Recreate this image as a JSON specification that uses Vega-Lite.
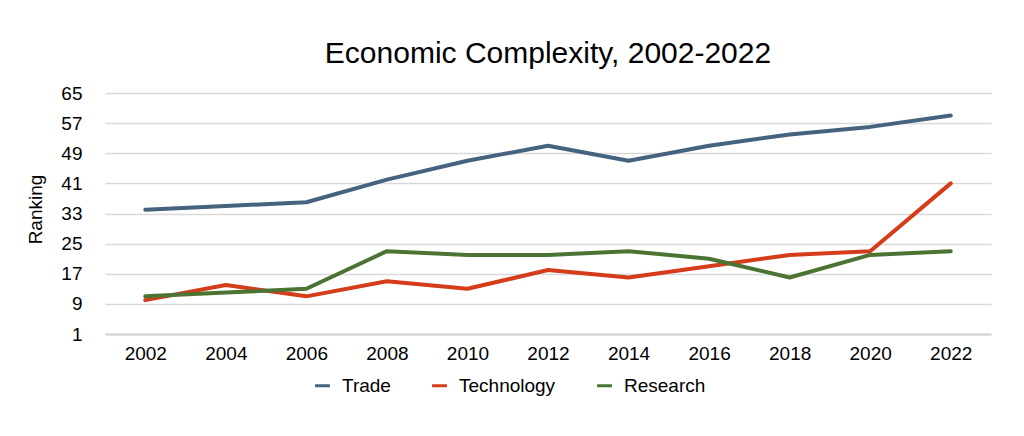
{
  "$schema": "https://vega.github.io/schema/vega-lite/v6.json",
  "width": 886,
  "height": 241,
  "autosize": {"type": "none"},
  "padding": {"left": 105, "top": 93, "right": 33, "bottom": 102},
  "background": "white",
  "config": {
    "font": "Liberation Sans",
    "view": {"stroke": null}
  },
  "title": {
    "text": "Economic Complexity, 2002-2022",
    "fontSize": 30,
    "fontWeight": "normal",
    "color": "#000000",
    "anchor": "middle",
    "frame": "group",
    "baseline": "alphabetic",
    "offset": -9
  },
  "data": {
    "values": [
      {"year": "2002", "series": "Trade", "rank": 34},
      {"year": "2004", "series": "Trade", "rank": 35},
      {"year": "2006", "series": "Trade", "rank": 36},
      {"year": "2008", "series": "Trade", "rank": 42},
      {"year": "2010", "series": "Trade", "rank": 47},
      {"year": "2012", "series": "Trade", "rank": 51},
      {"year": "2014", "series": "Trade", "rank": 47},
      {"year": "2016", "series": "Trade", "rank": 51},
      {"year": "2018", "series": "Trade", "rank": 54},
      {"year": "2020", "series": "Trade", "rank": 56},
      {"year": "2022", "series": "Trade", "rank": 59},
      {"year": "2002", "series": "Technology", "rank": 10},
      {"year": "2004", "series": "Technology", "rank": 14},
      {"year": "2006", "series": "Technology", "rank": 11},
      {"year": "2008", "series": "Technology", "rank": 15},
      {"year": "2010", "series": "Technology", "rank": 13},
      {"year": "2012", "series": "Technology", "rank": 18},
      {"year": "2014", "series": "Technology", "rank": 16},
      {"year": "2016", "series": "Technology", "rank": 19},
      {"year": "2018", "series": "Technology", "rank": 22},
      {"year": "2020", "series": "Technology", "rank": 23},
      {"year": "2022", "series": "Technology", "rank": 41},
      {"year": "2002", "series": "Research", "rank": 11},
      {"year": "2004", "series": "Research", "rank": 12},
      {"year": "2006", "series": "Research", "rank": 13},
      {"year": "2008", "series": "Research", "rank": 23},
      {"year": "2010", "series": "Research", "rank": 22},
      {"year": "2012", "series": "Research", "rank": 22},
      {"year": "2014", "series": "Research", "rank": 23},
      {"year": "2016", "series": "Research", "rank": 21},
      {"year": "2018", "series": "Research", "rank": 16},
      {"year": "2020", "series": "Research", "rank": 22},
      {"year": "2022", "series": "Research", "rank": 23}
    ]
  },
  "mark": {"type": "line", "strokeWidth": 4, "strokeCap": "round", "strokeJoin": "round"},
  "encoding": {
    "x": {
      "field": "year",
      "type": "ordinal",
      "scale": {"type": "point", "padding": 0.5},
      "axis": {
        "title": null,
        "labelAngle": 0,
        "labelFontSize": 19,
        "labelColor": "#000000",
        "labelPadding": 10,
        "ticks": false,
        "domain": true,
        "domainColor": "#d0d0d0",
        "domainWidth": 2,
        "grid": false
      }
    },
    "y": {
      "field": "rank",
      "type": "quantitative",
      "scale": {"domain": [1, 65], "nice": false, "zero": false},
      "axis": {
        "title": "Ranking",
        "titleFontSize": 19,
        "titleFontWeight": "normal",
        "titleColor": "#000000",
        "titleAngle": -90,
        "titleX": -64,
        "titleY": 116,
        "titleAlign": "center",
        "titleBaseline": "alphabetic",
        "values": [1, 9, 17, 25, 33, 41, 49, 57, 65],
        "labelFontSize": 19,
        "labelColor": "#000000",
        "labelPadding": 23,
        "ticks": false,
        "domain": false,
        "grid": true,
        "gridColor": "#d9d9d9",
        "gridWidth": 1.5
      }
    },
    "color": {
      "field": "series",
      "type": "nominal",
      "sort": ["Trade", "Technology", "Research"],
      "scale": {
        "domain": ["Trade", "Technology", "Research"],
        "range": ["#45637f", "#d43c1a", "#4b7331"]
      },
      "legend": {
        "title": null,
        "orient": "none",
        "direction": "horizontal",
        "legendX": 208,
        "legendY": 283,
        "symbolType": "stroke",
        "symbolSize": 220,
        "symbolStrokeWidth": 3,
        "labelFontSize": 19,
        "labelColor": "#000000",
        "labelOffset": 10,
        "columnPadding": 35
      }
    }
  }
}
